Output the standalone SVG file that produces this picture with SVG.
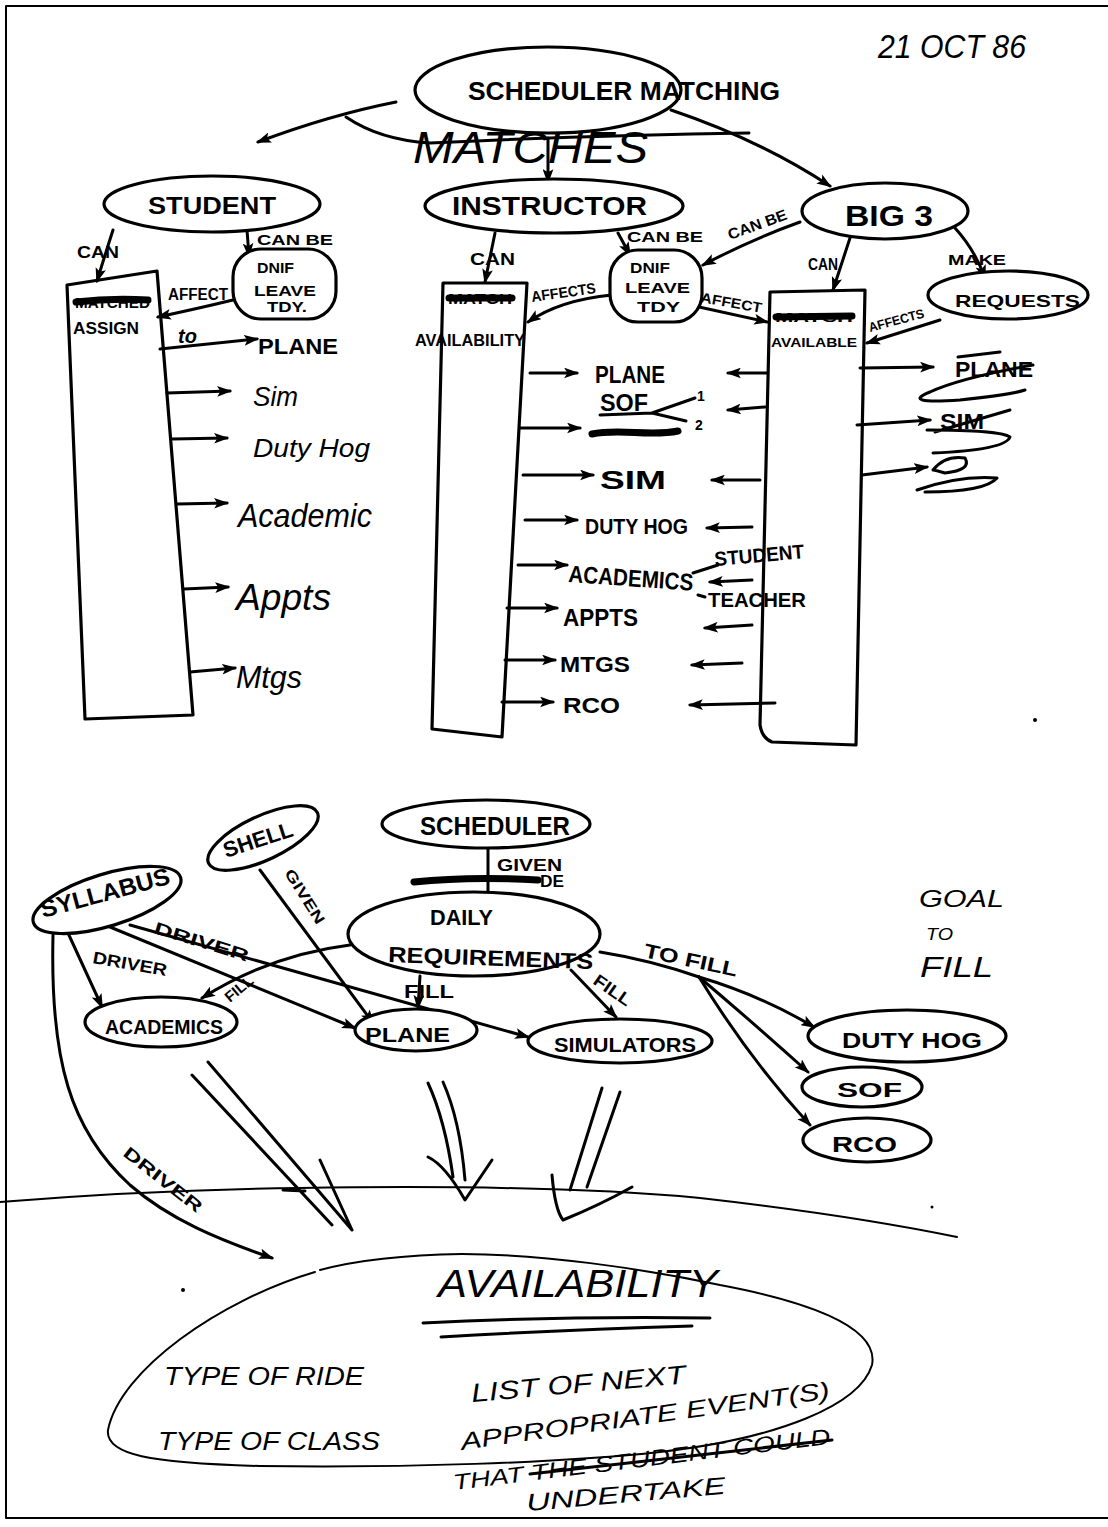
<svg xmlns="http://www.w3.org/2000/svg" width="1108" height="1527" viewBox="0 0 1108 1527">
  <defs>
    <style>
      .l{fill:none;stroke:#000;stroke-width:3;stroke-linecap:round;stroke-linejoin:round}
      .th{fill:none;stroke:#000;stroke-width:2;stroke-linecap:round;stroke-linejoin:round}
      .n{fill:#fff;stroke:#000;stroke-width:3.2}
      .b{fill:none;stroke:#000;stroke-width:3.2;stroke-linejoin:round}
      .a{marker-end:url(#ah)}
      .t{font-family:"Liberation Sans",Arial,sans-serif;font-weight:bold;fill:#000}
      .h{font-family:"Liberation Sans",Arial,sans-serif;font-style:italic;fill:#000}
      .x{fill:none;stroke:#000;stroke-width:7;stroke-linecap:round}
    </style>
    <marker id="ah" viewBox="0 0 14 10" refX="12" refY="5" markerWidth="15" markerHeight="11" markerUnits="userSpaceOnUse" orient="auto">
      <path d="M0,0 L14,5 L0,10 L3,5 Z" fill="#000"/>
    </marker>
  </defs>
  <rect width="1108" height="1527" fill="#fff"/>

  <!-- sheet border -->
  <path class="th" d="M6,1518 L6,6 L1108,6 M6,1518 L1108,1518"/>

  <!-- date -->
  <text class="h" x="878" y="58" font-size="34" textLength="148" lengthAdjust="spacingAndGlyphs">21 OCT 86</text>

  <!-- ===== connectors ===== -->
  <g id="connectors">
    <!-- top level -->
    <path class="l a" d="M396,102 Q330,115 258,142"/>
    <path class="l" d="M346,117 Q380,140 430,143 Q600,135 749,133"/>
    <path class="l a" d="M548,138 L548,182"/>
    <path class="l a" d="M671,110 Q760,140 830,186"/>

    <!-- student -->
    <path class="l a" d="M113,230 Q105,255 97,281"/>
    <path class="l a" d="M247,230 L249,256"/>
    <path class="l a" d="M233,300 Q200,308 158,317"/>
    <path class="l a" d="M160,349 L257,339"/>
    <path class="l a" d="M167,393 L230,391"/>
    <path class="l a" d="M172,439 L227,438"/>
    <path class="l a" d="M177,504 L227,503"/>
    <path class="l a" d="M184,589 L228,587"/>
    <path class="l a" d="M190,672 L235,668"/>

    <!-- instructor -->
    <path class="l a" d="M495,233 L485,282"/>
    <path class="l a" d="M618,233 L630,255"/>
    <path class="l a" d="M612,295 Q560,300 528,322"/>
    <path class="l a" d="M800,222 Q750,240 703,265"/>
    <path class="l a" d="M690,305 L767,322"/>
    <path class="l a" d="M530,373 L577,373"/>
    <path class="l a" d="M520,428 L580,428"/>
    <path class="l a" d="M523,475 L593,475"/>
    <path class="l a" d="M525,520 L577,520"/>
    <path class="l a" d="M518,565 L567,565"/>
    <path class="l a" d="M507,608 L557,608"/>
    <path class="l a" d="M505,660 L555,660"/>
    <path class="l a" d="M502,702 L553,702"/>

    <!-- big 3 box back to instructor items -->
    <path class="l a" d="M767,373 L728,373"/>
    <path class="l a" d="M765,407 L728,410"/>
    <path class="l a" d="M760,480 L712,480"/>
    <path class="l a" d="M752,527 L707,528"/>
    <path class="l a" d="M752,580 L710,582"/>
    <path class="l a" d="M752,625 L705,628"/>
    <path class="l a" d="M742,663 L692,665"/>
    <path class="l a" d="M775,703 L690,705"/>
    <path class="l" d="M693,573 L718,565 M698,595 L705,597"/>

    <!-- big 3 -->
    <path class="l a" d="M850,238 L833,290"/>
    <path class="l a" d="M955,228 Q975,250 985,278"/>
    <path class="l a" d="M940,320 L867,343"/>
    <path class="l a" d="M860,368 L933,367"/>
    <path class="l a" d="M857,425 L930,420"/>
    <path class="l a" d="M862,475 L927,467"/>

    <!-- lower sheet -->
    <path class="l" d="M488,848 L488,893"/>
    <path class="l a" d="M260,870 L373,1023"/>
    <path class="l a" d="M68,933 L102,1007"/>
    <path class="l a" d="M110,927 L355,1028"/>
    <path class="l a" d="M130,925 L528,1037"/>
    <path class="l a" d="M350,945 Q270,955 202,998"/>
    <path class="l a" d="M420,976 L418,1008"/>
    <path class="l a" d="M571,970 L616,1017"/>
    <path class="l" d="M600,952 Q650,960 699,977"/>
    <path class="l a" d="M699,977 Q760,995 814,1027"/>
    <path class="l a" d="M699,977 Q750,1020 808,1072"/>
    <path class="l a" d="M699,977 Q750,1060 810,1125"/>
    <path class="l a" d="M53,935 C50,1060 70,1130 130,1185 C170,1220 220,1240 272,1258"/>

    <!-- horizon line -->
    <path class="th" d="M0,1202 Q150,1190 300,1188 Q550,1184 700,1198 Q850,1215 957,1237"/>

    <!-- open double arrows -->
    <path class="l" d="M192,1075 L332,1225 M208,1062 L352,1230 M320,1160 L352,1230 M283,1190 L305,1191"/>
    <path class="l" d="M428,1083 Q445,1120 453,1177 M443,1082 Q460,1120 465,1180 M428,1157 Q445,1165 465,1200 L492,1160"/>
    <path class="l" d="M602,1088 L570,1190 M620,1092 L587,1187 M552,1175 Q555,1210 563,1220 Q600,1205 632,1187"/>
  </g>

  <!-- ===== top nodes ===== -->
  <g id="scheduler-matching">
    <ellipse class="n" cx="548" cy="90" rx="133" ry="43"/>
    <text class="t" x="468" y="100" font-size="26" textLength="312" lengthAdjust="spacingAndGlyphs">SCHEDULER MATCHING</text>
  </g>
  <text class="h" x="413" y="163" font-size="44" textLength="235" lengthAdjust="spacingAndGlyphs">MATCHES</text>

  <g id="student">
    <ellipse class="n" cx="212" cy="204" rx="108" ry="28"/>
    <text class="t" x="148" y="214" font-size="24" textLength="128" lengthAdjust="spacingAndGlyphs">STUDENT</text>
  </g>
  <g id="instructor">
    <ellipse class="n" cx="554" cy="206" rx="129" ry="27"/>
    <text class="t" x="452" y="215" font-size="25" textLength="195" lengthAdjust="spacingAndGlyphs">INSTRUCTOR</text>
  </g>
  <g id="big3">
    <ellipse class="n" cx="885" cy="211" rx="83" ry="28"/>
    <text class="t" x="845" y="226" font-size="30" textLength="88" lengthAdjust="spacingAndGlyphs">BIG 3</text>
  </g>

  <!-- student column -->
  <text class="t" x="77" y="258" font-size="17" textLength="42" lengthAdjust="spacingAndGlyphs">CAN</text>
  <text class="t" x="257" y="245" font-size="15" textLength="76" lengthAdjust="spacingAndGlyphs">CAN BE</text>
  <g id="student-dnif">
    <rect class="n" x="233" y="249" width="103" height="70" rx="28"/>
    <text class="t" x="257" y="273" font-size="15" textLength="37" lengthAdjust="spacingAndGlyphs">DNIF</text>
    <text class="t" x="254" y="296" font-size="15" textLength="62" lengthAdjust="spacingAndGlyphs">LEAVE</text>
    <text class="t" x="267" y="312" font-size="15" textLength="40" lengthAdjust="spacingAndGlyphs">TDY.</text>
  </g>
  <text class="t" x="168" y="300" font-size="16" textLength="60" lengthAdjust="spacingAndGlyphs">AFFECT</text>
  <g id="student-assign">
    <path class="b" d="M67,285 L157,271 L193,715 L85,719 Z"/>
    <text class="t" x="75" y="308" font-size="15" textLength="75" lengthAdjust="spacingAndGlyphs">MATCHED</text>
    <path class="x" d="M76,302 Q110,298 148,300"/>
    <text class="t" x="73" y="334" font-size="16" textLength="66" lengthAdjust="spacingAndGlyphs">ASSIGN</text>
  </g>
  <text class="h" x="178" y="343" font-size="20" font-weight="bold">to</text>
  <text class="t" x="258" y="354" font-size="22" textLength="80" lengthAdjust="spacingAndGlyphs">PLANE</text>
  <text class="h" x="253" y="406" font-size="28" textLength="45" lengthAdjust="spacingAndGlyphs">Sim</text>
  <text class="h" x="253" y="457" font-size="26" textLength="117" lengthAdjust="spacingAndGlyphs">Duty Hog</text>
  <text class="h" x="238" y="527" font-size="34" textLength="134" lengthAdjust="spacingAndGlyphs">Academic</text>
  <text class="h" x="236" y="610" font-size="36" textLength="95" lengthAdjust="spacingAndGlyphs">Appts</text>
  <text class="h" x="236" y="688" font-size="32" textLength="66" lengthAdjust="spacingAndGlyphs">Mtgs</text>

  <!-- instructor column -->
  <text class="t" x="470" y="265" font-size="16" textLength="45" lengthAdjust="spacingAndGlyphs">CAN</text>
  <text class="t" x="627" y="242" font-size="15" textLength="76" lengthAdjust="spacingAndGlyphs">CAN BE</text>
  <g id="instructor-dnif">
    <rect class="n" x="610" y="250" width="92" height="72" rx="28"/>
    <text class="t" x="630" y="273" font-size="15" textLength="40" lengthAdjust="spacingAndGlyphs">DNIF</text>
    <text class="t" x="625" y="293" font-size="15" textLength="65" lengthAdjust="spacingAndGlyphs">LEAVE</text>
    <text class="t" x="637" y="312" font-size="15" textLength="43" lengthAdjust="spacingAndGlyphs">TDY</text>
  </g>
  <text class="t" x="532" y="302" font-size="15" textLength="65" lengthAdjust="spacingAndGlyphs" transform="rotate(-8 532 302)">AFFECTS</text>
  <text class="t" x="700" y="302" font-size="14" textLength="62" lengthAdjust="spacingAndGlyphs" transform="rotate(10 700 302)">AFFECT</text>
  <text class="t" x="730" y="240" font-size="15" textLength="62" lengthAdjust="spacingAndGlyphs" transform="rotate(-20 730 240)">CAN BE</text>
  <g id="instructor-availability">
    <path class="b" d="M443,283 L527,283 L502,737 L432,729 Z"/>
    <text class="t" x="448" y="304" font-size="14" textLength="64" lengthAdjust="spacingAndGlyphs">MATCH</text>
    <path class="x" d="M449,298 L512,298"/>
    <text class="t" x="415" y="346" font-size="17" textLength="110" lengthAdjust="spacingAndGlyphs">AVAILABILITY</text>
  </g>
  <text class="t" x="595" y="383" font-size="24" textLength="70" lengthAdjust="spacingAndGlyphs">PLANE</text>
  <text class="t" x="600" y="411" font-size="24" textLength="48" lengthAdjust="spacingAndGlyphs">SOF</text>
  <path class="l" d="M600,415 L652,413 L695,398 M652,413 L686,421"/>
  <text class="t" x="697" y="401" font-size="14">1</text>
  <text class="t" x="695" y="430" font-size="14">2</text>
  <path class="x" d="M592,434 C620,428 650,437 678,431"/>
  <text class="t" x="600" y="489" font-size="26" textLength="66" lengthAdjust="spacingAndGlyphs">SIM</text>
  <text class="t" x="585" y="534" font-size="22" textLength="103" lengthAdjust="spacingAndGlyphs">DUTY HOG</text>
  <text class="t" x="568" y="582" font-size="24" textLength="125" lengthAdjust="spacingAndGlyphs" transform="rotate(4 568 582)">ACADEMICS</text>
  <text class="t" x="563" y="626" font-size="24" textLength="75" lengthAdjust="spacingAndGlyphs">APPTS</text>
  <text class="t" x="560" y="672" font-size="22" textLength="70" lengthAdjust="spacingAndGlyphs">MTGS</text>
  <text class="t" x="563" y="713" font-size="22" textLength="57" lengthAdjust="spacingAndGlyphs">RCO</text>
  <text class="t" x="715" y="566" font-size="20" textLength="90" lengthAdjust="spacingAndGlyphs" transform="rotate(-5 715 566)">STUDENT</text>
  <text class="t" x="708" y="607" font-size="20" textLength="98" lengthAdjust="spacingAndGlyphs">TEACHER</text>

  <!-- big 3 column -->
  <text class="t" x="808" y="270" font-size="16" textLength="30" lengthAdjust="spacingAndGlyphs">CAN</text>
  <text class="t" x="948" y="265" font-size="15" textLength="58" lengthAdjust="spacingAndGlyphs">MAKE</text>
  <g id="requests">
    <ellipse class="n" cx="1008" cy="295" rx="80" ry="24"/>
    <text class="t" x="955" y="307" font-size="17" textLength="125" lengthAdjust="spacingAndGlyphs">REQUESTS</text>
  </g>
  <text class="t" x="870" y="332" font-size="13" textLength="57" lengthAdjust="spacingAndGlyphs" transform="rotate(-15 870 332)">AFFECTS</text>
  <g id="big3-available">
    <path class="b" d="M770,292 L865,290 L856,745 L772,742 Q762,738 760,725 Z"/>
    <text class="t" x="775" y="322" font-size="13" textLength="78" lengthAdjust="spacingAndGlyphs">MATCH</text>
    <path class="x" d="M776,317 L852,316"/>
    <text class="t" x="771" y="347" font-size="13" textLength="86" lengthAdjust="spacingAndGlyphs">AVAILABLE</text>
  </g>
  <text class="t" x="955" y="377" font-size="22" textLength="78" lengthAdjust="spacingAndGlyphs">PLANE</text>
  <path class="l" d="M958,357 L1000,352 M1033,365 Q960,378 930,392 Q900,404 960,400 Q1010,395 1025,390"/>
  <text class="t" x="940" y="429" font-size="22" textLength="44" lengthAdjust="spacingAndGlyphs">SIM</text>
  <path class="l" d="M935,432 L1010,410 M927,430 Q1000,430 1010,437 Q1005,450 933,453"/>
  <path class="l" d="M933,470 Q945,455 965,458 Q972,470 945,473 Q935,470 933,470 M917,490 Q960,475 997,478 Q985,492 925,492"/>

  <!-- ===== lower sheet nodes ===== -->
  <g id="scheduler">
    <ellipse class="n" cx="486" cy="824" rx="104" ry="24"/>
    <text class="t" x="420" y="835" font-size="26" textLength="150" lengthAdjust="spacingAndGlyphs">SCHEDULER</text>
  </g>
  <text class="t" x="497" y="871" font-size="16" textLength="65" lengthAdjust="spacingAndGlyphs">GIVEN</text>
  <path class="x" d="M414,882 Q470,876 538,880" stroke-width="6"/>
  <text class="t" x="540" y="887" font-size="16" textLength="24" lengthAdjust="spacingAndGlyphs">DE</text>
  <g id="daily-requirements">
    <ellipse class="n" cx="474" cy="934" rx="126" ry="42"/>
    <text class="t" x="430" y="925" font-size="22" textLength="63" lengthAdjust="spacingAndGlyphs">DAILY</text>
    <text class="t" x="388" y="962" font-size="22" textLength="205" lengthAdjust="spacingAndGlyphs" transform="rotate(2 388 962)">REQUIREMENTS</text>
  </g>
  <g id="shell">
    <ellipse class="n" cx="263" cy="838" rx="60" ry="22" transform="rotate(-25 263 838)"/>
    <text class="t" x="226" y="858" font-size="22" textLength="72" lengthAdjust="spacingAndGlyphs" transform="rotate(-18 226 858)">SHELL</text>
  </g>
  <text class="t" x="284" y="873" font-size="15" textLength="62" lengthAdjust="spacingAndGlyphs" transform="rotate(58 284 873)">GIVEN</text>
  <g id="syllabus">
    <ellipse class="n" cx="107" cy="900" rx="77" ry="26" transform="rotate(-17 107 900)"/>
    <text class="t" x="43" y="918" font-size="24" textLength="133" lengthAdjust="spacingAndGlyphs" transform="rotate(-15 43 918)">SYLLABUS</text>
  </g>
  <text class="t" x="153" y="933" font-size="17" textLength="98" lengthAdjust="spacingAndGlyphs" transform="rotate(17 153 933)">DRIVER</text>
  <text class="t" x="92" y="963" font-size="17" textLength="75" lengthAdjust="spacingAndGlyphs" transform="rotate(10 92 963)">DRIVER</text>
  <text class="t" x="230" y="1003" font-size="15" textLength="32" lengthAdjust="spacingAndGlyphs" transform="rotate(-40 230 1003)">FILL</text>
  <text class="t" x="404" y="998" font-size="18" textLength="50" lengthAdjust="spacingAndGlyphs">FILL</text>
  <text class="t" x="592" y="983" font-size="17" textLength="42" lengthAdjust="spacingAndGlyphs" transform="rotate(35 592 983)">FILL</text>
  <text class="t" x="643" y="957" font-size="20" textLength="95" lengthAdjust="spacingAndGlyphs" transform="rotate(12 643 957)">TO FILL</text>

  <g id="academics">
    <ellipse class="n" cx="161" cy="1022" rx="76" ry="25"/>
    <text class="t" x="105" y="1034" font-size="20" textLength="118" lengthAdjust="spacingAndGlyphs">ACADEMICS</text>
  </g>
  <g id="plane">
    <ellipse class="n" cx="416" cy="1030" rx="61" ry="21"/>
    <text class="t" x="365" y="1042" font-size="20" textLength="85" lengthAdjust="spacingAndGlyphs">PLANE</text>
  </g>
  <g id="simulators">
    <ellipse class="n" cx="620" cy="1041" rx="92" ry="22"/>
    <text class="t" x="554" y="1052" font-size="20" textLength="142" lengthAdjust="spacingAndGlyphs">SIMULATORS</text>
  </g>
  <g id="duty-hog">
    <ellipse class="n" cx="907" cy="1036" rx="99" ry="26"/>
    <text class="t" x="842" y="1048" font-size="22" textLength="140" lengthAdjust="spacingAndGlyphs">DUTY HOG</text>
  </g>
  <g id="sof">
    <ellipse class="n" cx="862" cy="1087" rx="60" ry="20"/>
    <text class="t" x="837" y="1097" font-size="20" textLength="65" lengthAdjust="spacingAndGlyphs">SOF</text>
  </g>
  <g id="rco">
    <ellipse class="n" cx="867" cy="1140" rx="64" ry="22"/>
    <text class="t" x="832" y="1152" font-size="22" textLength="65" lengthAdjust="spacingAndGlyphs">RCO</text>
  </g>

  <text class="h" x="919" y="907" font-size="24" textLength="85" lengthAdjust="spacingAndGlyphs">GOAL</text>
  <text class="h" x="926" y="940" font-size="16" textLength="27" lengthAdjust="spacingAndGlyphs">TO</text>
  <text class="h" x="920" y="977" font-size="30" textLength="73" lengthAdjust="spacingAndGlyphs">FILL</text>

  <text class="t" x="122" y="1155" font-size="17" textLength="95" lengthAdjust="spacingAndGlyphs" transform="rotate(38 122 1155)">DRIVER</text>

  <!-- availability summary -->
  <g id="availability">
    <path class="th" d="M315,1272 C220,1300 120,1370 108,1430 C105,1455 150,1463 260,1466 C400,1468 560,1463 660,1452 C780,1438 860,1405 872,1365 C880,1325 800,1300 720,1285 C640,1268 540,1254 462,1254 C400,1255 350,1262 320,1270"/>
    <text class="h" x="438" y="1297" font-size="38" textLength="280" lengthAdjust="spacingAndGlyphs">AVAILABILITY</text>
    <path class="l" d="M423,1323 Q560,1316 710,1318" stroke-width="4"/>
    <path class="l" d="M441,1337 Q560,1330 692,1326" stroke-width="4"/>
    <text class="h" x="164" y="1385" font-size="26" textLength="200" lengthAdjust="spacingAndGlyphs">TYPE OF RIDE</text>
    <text class="h" x="158" y="1450" font-size="26" textLength="222" lengthAdjust="spacingAndGlyphs">TYPE OF CLASS</text>
    <text class="h" x="472" y="1402" font-size="26" textLength="215" lengthAdjust="spacingAndGlyphs" transform="rotate(-5 472 1402)">LIST OF NEXT</text>
    <text class="h" x="462" y="1450" font-size="24" textLength="372" lengthAdjust="spacingAndGlyphs" transform="rotate(-8 462 1450)">APPROPRIATE EVENT(S)</text>
    <text class="h" x="454" y="1490" font-size="22" textLength="380" lengthAdjust="spacingAndGlyphs" transform="rotate(-7 454 1490)">THAT THE STUDENT COULD</text>
    <path class="l" d="M530,1474 L832,1440"/>
    <text class="h" x="527" y="1511" font-size="24" textLength="200" lengthAdjust="spacingAndGlyphs" transform="rotate(-5 527 1511)">UNDERTAKE</text>
  </g>

  <!-- stray pen marks -->
  <circle cx="1035" cy="720" r="2" fill="#000"/>
  <circle cx="932" cy="1207" r="1.5" fill="#000"/>
  <circle cx="183" cy="1290" r="2" fill="#000"/>
</svg>
